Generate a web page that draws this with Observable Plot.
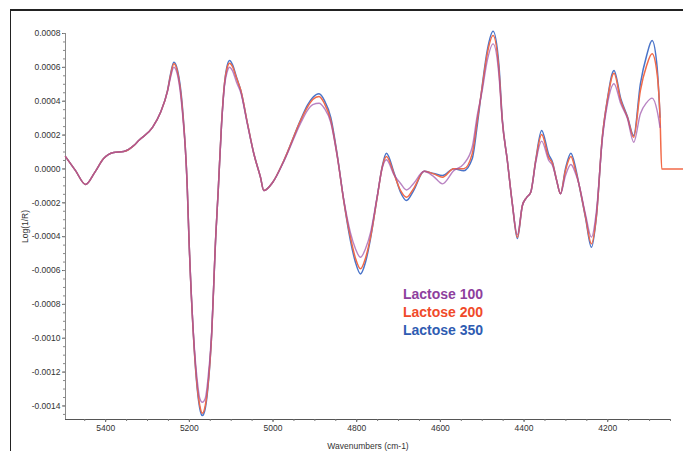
<!DOCTYPE html>
<html>
<head>
<meta charset="utf-8">
<script src="https://cdn.jsdelivr.net/npm/d3@7"></script>
<script src="https://cdn.jsdelivr.net/npm/@observablehq/plot@0.6"></script>
<style>
  html, body { margin: 0; padding: 0; background: #fff; }
  #wrap { position: relative; width: 683px; height: 451px; overflow: hidden; font-family: "Liberation Sans", Arial, sans-serif; }
  #border { position: absolute; left: 10px; top: 9px; width: 700px; height: 460px; border-top: 2px solid #222; border-left: 1.5px solid #222; pointer-events: none; }
  #legend { position: absolute; left: 403px; top: 285px; font-weight: bold; font-size: 14px; line-height: 18px; }
  svg { position: absolute; left: 0; top: 0; }
</style>
</head>
<body>
<div id="wrap">
  <div id="border"></div>
  <div id="legend"></div>
</div>
<script>
const wavenumbers = [5496, 5472, 5448, 5426, 5405, 5381, 5357, 5333, 5321, 5288,
  5269, 5252, 5245, 5237, 5228, 5217, 5205, 5201, 5190, 5181,
  5175, 5169, 5162, 5156, 5147, 5137, 5131, 5123, 5116, 5110,
  5104, 5097, 5087, 5077, 5061, 5046, 5030, 5022, 5001, 4974,
  4934, 4918, 4905, 4890, 4877, 4862, 4846, 4831, 4815, 4803,
  4791, 4779, 4767, 4751, 4739, 4729, 4711, 4695, 4681, 4664,
  4639, 4616, 4595, 4568, 4544, 4524, 4512, 4500, 4488, 4474,
  4460, 4452, 4440, 4428, 4416, 4404, 4394, 4384, 4372, 4358,
  4341, 4332, 4322, 4313, 4301, 4288, 4277, 4269, 4253, 4239,
  4227, 4213, 4201, 4185, 4169, 4153, 4138, 4122, 4107, 4094,
  4082, 4075, 4071, 4019];

const lactose100 = [0.73e-4, -0.10e-4, -0.92e-4, -0.20e-4, 0.61e-4, 0.97e-4, 1.03e-4, 1.38e-4, 1.68e-4, 2.45e-4,
  3.33e-4, 4.60e-4, 5.40e-4, 6.01e-4, 5.52e-4, 3.45e-4, -1.08e-4, -4.03e-4, -9.80e-4, -12.52e-4,
  -13.56e-4, -13.78e-4, -13.56e-4, -12.52e-4, -9.80e-4, -4.03e-4, -1.28e-4, 2.60e-4, 4.90e-4, 5.69e-4,
  6.01e-4, 5.81e-4, 5.10e-4, 4.50e-4, 2.60e-4, 0.91e-4, -0.49e-4, -1.28e-4, -0.80e-4, 0.45e-4,
  2.70e-4, 3.45e-4, 3.80e-4, 3.88e-4, 3.57e-4, 2.74e-4, 0.65e-4, -1.80e-4, -3.76e-4, -4.71e-4,
  -5.22e-4, -4.71e-4, -3.76e-4, -1.60e-4, 0.05e-4, 0.54e-4, -0.33e-4, -0.86e-4, -1.24e-4, -0.86e-4,
  -0.14e-4, -0.45e-4, -0.88e-4, -0.10e-4, 0.30e-4, 1.28e-4, 3.15e-4, 4.63e-4, 6.40e-4, 7.39e-4,
  5.52e-4, 2.80e-4, 0.50e-4, -2.06e-4, -3.88e-4, -2.16e-4, -1.69e-4, -1.38e-4, 0.40e-4, 1.64e-4,
  0.50e-4, 0.20e-4, -0.69e-4, -1.47e-4, -0.39e-4, 0.26e-4, -0.27e-4, -0.88e-4, -2.70e-4, -4.03e-4,
  -2.46e-4, 1.70e-4, 3.80e-4, 5.03e-4, 3.86e-4, 2.98e-4, 1.58e-4, 3.26e-4, 3.92e-4, 4.18e-4,
  3.45e-4, 2.46e-4, null, null];

const lactose200 = [0.73e-4, -0.10e-4, -0.92e-4, -0.20e-4, 0.61e-4, 0.97e-4, 1.03e-4, 1.38e-4, 1.68e-4, 2.45e-4,
  3.33e-4, 4.63e-4, 5.52e-4, 6.21e-4, 5.69e-4, 3.64e-4, -1.08e-4, -4.03e-4, -9.94e-4, -12.89e-4,
  -13.98e-4, -14.43e-4, -13.98e-4, -12.89e-4, -9.94e-4, -4.03e-4, -1.28e-4, 2.68e-4, 5.04e-4, 5.93e-4,
  6.24e-4, 6.05e-4, 5.34e-4, 4.63e-4, 2.68e-4, 0.91e-4, -0.49e-4, -1.28e-4, -0.80e-4, 0.50e-4,
  2.86e-4, 3.64e-4, 4.10e-4, 4.28e-4, 3.86e-4, 2.86e-4, 0.69e-4, -1.87e-4, -4.03e-4, -5.27e-4,
  -5.90e-4, -5.27e-4, -4.03e-4, -1.67e-4, 0.10e-4, 0.73e-4, -0.29e-4, -1.28e-4, -1.67e-4, -1.16e-4,
  -0.14e-4, -0.29e-4, -0.49e-4, 0.01e-4, 0.01e-4, 0.89e-4, 2.86e-4, 4.83e-4, 6.80e-4, 7.88e-4,
  5.81e-4, 2.86e-4, 0.50e-4, -2.06e-4, -4.03e-4, -2.16e-4, -1.69e-4, -1.38e-4, 0.50e-4, 2.03e-4,
  0.67e-4, 0.32e-4, -0.69e-4, -1.47e-4, -0.10e-4, 0.73e-4, -0.10e-4, -0.88e-4, -2.85e-4, -4.42e-4,
  -2.75e-4, 1.87e-4, 4.04e-4, 5.65e-4, 4.04e-4, 3.05e-4, 1.87e-4, 4.63e-4, 6.11e-4, 6.80e-4,
  5.62e-4, 3.05e-4, 0, 0];

const lactose350 = [0.73e-4, -0.10e-4, -0.92e-4, -0.20e-4, 0.61e-4, 0.97e-4, 1.03e-4, 1.38e-4, 1.68e-4, 2.45e-4,
  3.33e-4, 4.66e-4, 5.60e-4, 6.30e-4, 5.81e-4, 3.80e-4, -1.08e-4, -4.03e-4, -9.94e-4, -13.03e-4,
  -14.15e-4, -14.57e-4, -14.15e-4, -13.03e-4, -9.94e-4, -4.03e-4, -1.28e-4, 2.68e-4, 5.04e-4, 6.05e-4,
  6.40e-4, 6.17e-4, 5.40e-4, 4.63e-4, 2.68e-4, 0.91e-4, -0.49e-4, -1.28e-4, -0.80e-4, 0.50e-4,
  2.90e-4, 3.75e-4, 4.22e-4, 4.44e-4, 4.04e-4, 3.04e-4, 0.75e-4, -1.87e-4, -4.23e-4, -5.51e-4,
  -6.20e-4, -5.51e-4, -4.11e-4, -1.67e-4, 0.15e-4, 0.93e-4, -0.21e-4, -1.39e-4, -1.87e-4, -1.28e-4,
  -0.14e-4, -0.27e-4, -0.39e-4, 0.01e-4, -0.10e-4, 0.60e-4, 2.56e-4, 4.93e-4, 6.99e-4, 8.13e-4,
  6.11e-4, 2.95e-4, 0.50e-4, -2.06e-4, -4.11e-4, -2.16e-4, -1.69e-4, -1.38e-4, 0.55e-4, 2.27e-4,
  0.85e-4, 0.40e-4, -0.69e-4, -1.47e-4, 0.02e-4, 0.93e-4, 0.08e-4, -0.88e-4, -2.90e-4, -4.63e-4,
  -2.81e-4, 1.87e-4, 4.10e-4, 5.81e-4, 4.16e-4, 3.10e-4, 1.97e-4, 5.03e-4, 6.70e-4, 7.58e-4,
  6.01e-4, 3.05e-4, null, null];

const seriesNames = ["Lactose 100", "Lactose 200", "Lactose 350"];
const seriesColors = ["#9b4fa8", "#f26a48", "#4a74c9"];
const legendColors = ["#8e3f9e", "#f04a2a", "#2f5cb2"];
const xTicks = [5400, 5200, 5000, 4800, 4600, 4400, 4200];
const yTicks = [-0.0014, -0.0012, -0.0010, -0.0008, -0.0006, -0.0004, -0.0002, 0, 0.0002, 0.0004, 0.0006, 0.0008];

const seriesValues = [lactose100, lactose200, lactose350];
function rowsFor(s) {
  return wavenumbers.map((w, i) => ({series: seriesNames[s], wn: w, v: seriesValues[s][i] === null ? NaN : seriesValues[s][i]}));
}

const chart = Plot.plot({
  width: 683,
  height: 451,
  marginLeft: 65,
  marginRight: 13,
  marginTop: 33,
  marginBottom: 32,
  style: {fontFamily: "'Liberation Sans', Arial, sans-serif", fontSize: "8.5px", color: "#333", background: "transparent", overflow: "visible"},
  x: {domain: [5496, 4050]},
  y: {domain: [-0.00148, 0.0008]},
  color: {domain: seriesNames, range: seriesColors},
  marks: [
    Plot.frame({anchor: "left", stroke: "#8a8a8a"}),
    Plot.frame({anchor: "bottom", stroke: "#555"}),
    Plot.axisY({ticks: yTicks, tickSize: 3, tickPadding: 2, tickFormat: d => d.toFixed(4), stroke: "#666",
      label: "Log(1/R)", labelAnchor: "center", labelOffset: 44, labelArrow: false}),
    Plot.axisY({interval: 0.00005, tickSize: 2, text: null, label: null, stroke: "#888"}),
    Plot.axisX({ticks: xTicks, tickSize: 3, tickPadding: 2, tickFormat: d => String(d), stroke: "#555",
      label: "Wavenumbers (cm-1)", labelAnchor: "center", labelOffset: 29, labelArrow: false}),
    Plot.axisX({interval: 50, tickSize: 2, text: null, label: null, stroke: "#777"}),
    Plot.line(rowsFor(2), {x: "wn", y: "v", stroke: "series", strokeWidth: 1.5, curve: "monotone-x"}),
    Plot.line(rowsFor(1), {x: "wn", y: "v", stroke: "series", strokeWidth: 1.5, curve: "monotone-x"}),
    Plot.line(rowsFor(0), {x: "wn", y: "v", stroke: "series", strokeWidth: 1.4, strokeOpacity: 0.7, curve: "monotone-x"})
  ]
});
document.getElementById("wrap").appendChild(chart);

const legend = document.getElementById("legend");
seriesNames.forEach((n, i) => {
  const d = document.createElement("div");
  d.textContent = n;
  d.style.color = legendColors[i];
  legend.appendChild(d);
});
</script>
</body>
</html>
